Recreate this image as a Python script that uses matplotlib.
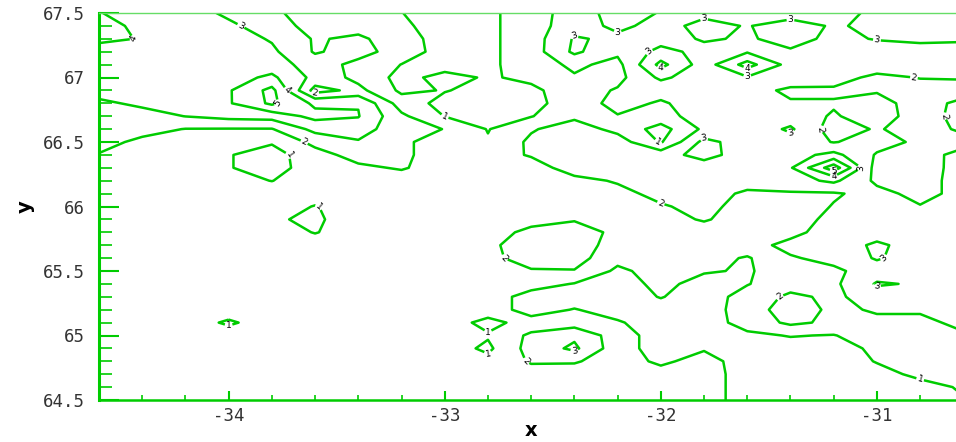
import matplotlib
matplotlib.use("Agg")
import matplotlib.pyplot as plt
import numpy as np
from matplotlib.ticker import MultipleLocator

plt.rcParams['axes.unicode_minus'] = False

# grid nodes (longitude west->east, latitude north->south)
lon = [-34.6, -34.4, -34.2, -34.0, -33.8, -33.6, -33.4, -33.2, -33.0, -32.8, -32.6,
       -32.4, -32.2, -32.0, -31.8, -31.6, -31.4, -31.2, -31.0, -30.8, -30.6]
lat = [67.5, 67.4, 67.3, 67.2, 67.1, 67.0, 66.9, 66.8, 66.7, 66.6, 66.5,
       66.4, 66.3, 66.2, 66.1, 66.0, 65.9, 65.8, 65.7, 65.6, 65.5,
       65.4, 65.3, 65.2, 65.1, 65.0, 64.9, 64.8, 64.7, 64.6, 64.5]

# gridded values, one row per latitude
z_rows = [
    [4.05, 3.5, 3.5, 2.8, 2.2, 1.5, 1.5, 1.02, 0.5, 0.8, 1.5, 2.5, 3.4, 2.95, 2.8, 2.8, 2.6, 2.5, 3.3, 3.4, 3.4],
    [4.3, 3.8, 3.6, 3.2, 2.5, 1.6, 1.6, 1.2, 0.5, 0.8, 1.5, 2.6, 3.2, 2.7, 3.25, 2.95, 3.4, 2.9, 3.2, 3.4, 3.4],
    [4.2, 3.95, 3.6, 3.5, 2.9, 1.9, 2.2, 1.4, 0.6, 0.8, 1.5, 3.1, 2.8, 2.6, 3.1, 2.9, 3.3, 2.8, 3.05, 3.2, 3.1],
    [3.6, 3.5, 3.5, 3.5, 3.2, 1.9, 2.4, 1.5, 0.6, 0.8, 1.5, 3.2, 2.2, 3.3, 2.7, 2.9, 2.9, 2.7, 2.6, 2.6, 2.7],
    [3.5, 3.5, 3.5, 3.5, 3.5, 2.5, 1.7, 0.98, 0.6, 0.8, 1.5, 2.2, 1.7, 4.3, 2.5, 4.4, 2.6, 2.6, 2.7, 2.6, 2.6],
    [3.5, 3.5, 3.5, 3.6, 4.2, 2.7, 1.7, 0.7, 1.3, 0.9, 1.2, 1.9, 1.7, 3.2, 2.4, 2.9, 2.6, 2.5, 1.7, 2.05, 2.1],
    [3.4, 3.4, 3.5, 3.9, 5.3, 1.6, 2.3, 0.8, 1.05, 0.7, 0.8, 1.5, 2.1, 2.3, 2.2, 2.4, 1.8, 1.8, 1.9, 1.5, 1.5],
    [2.8, 3.2, 3.4, 3.9, 5.2, 3.8, 3.95, 1.5, 0.7, 0.7, 0.7, 1.5, 2.3, 1.9, 2.4, 2.3, 2.1, 2.1, 2.4, 1.5, 2.3],
    [2.6, 2.6, 3.02, 3.3, 3.4, 4.3, 4.05, 2.2, 0.97, 0.8, 0.95, 1.8, 1.95, 1.6, 2.5, 2.3, 2.5, 1.9, 2.5, 1.5, 2.4],
    [2.5, 2.3, 1.97, 1.95, 1.95, 3.3, 3.5, 2.3, 1.98, 0.95, 1.9, 2.5, 1.7, 0.6, 2.2, 2.4, 3.15, 1.5, 2.1, 1.5, 2.2],
    [2.3, 1.8, 1.5, 1.5, 1.1, 2.3, 2.9, 2.2, 1.5, 1.1, 2.2, 2.6, 2.5, 0.9, 3.3, 2.5, 2.6, 1.95, 2.4, 1.8, 1.6],
    [1.95, 1.5, 1.5, 1.05, 0.6, 1.6, 2.4, 2.2, 1.5, 1.5, 2.1, 2.6, 2.6, 2.6, 3.35, 2.5, 2.6, 3.3, 1.9, 1.5, 2.4],
    [1.5, 1.5, 1.5, 1.05, 0.6, 1.5, 1.8, 2.1, 1.5, 1.5, 1.5, 2.5, 2.4, 2.5, 2.5, 2.5, 2.9, 5.6, 1.5, 1.4, 2.5],
    [1.5, 1.5, 1.5, 1.3, 0.98, 1.5, 1.5, 1.5, 1.5, 1.5, 1.5, 1.7, 2.1, 2.5, 2.5, 2.5, 2.6, 3.2, 1.8, 1.5, 2.5],
    [1.5, 1.5, 1.5, 1.5, 1.5, 1.5, 1.5, 1.5, 1.5, 1.5, 1.5, 1.5, 1.7, 2.3, 2.5, 1.8, 1.9, 1.9, 2.3, 1.7, 2.3],
    [1.5, 1.5, 1.5, 1.5, 1.5, 0.95, 1.5, 1.5, 1.5, 1.5, 1.5, 1.5, 1.6, 1.9, 2.3, 1.6, 1.5, 2.05, 2.3, 2.05, 2.3],
    [1.5, 1.5, 1.5, 1.5, 1.1, 0.85, 1.5, 1.5, 1.5, 1.5, 1.6, 1.9, 1.5, 1.6, 2.1, 1.5, 1.5, 2.3, 2.4, 2.4, 2.3],
    [1.5, 1.5, 1.5, 1.5, 1.5, 0.95, 1.5, 1.5, 1.5, 1.5, 2.3, 2.6, 1.7, 1.5, 1.5, 1.7, 1.7, 2.5, 2.5, 2.5, 2.5],
    [1.5, 1.5, 1.5, 1.5, 1.5, 1.5, 1.5, 1.5, 1.5, 1.8, 2.5, 2.6, 1.5, 1.5, 1.5, 1.6, 2.3, 2.4, 3.2, 2.5, 2.5],
    [1.5, 1.5, 1.5, 1.5, 1.5, 1.5, 1.5, 1.5, 1.5, 1.7, 2.5, 2.4, 1.3, 1.5, 1.4, 0.9, 1.9, 2.3, 3.1, 2.5, 2.5],
    [1.5, 1.5, 1.5, 1.5, 1.5, 1.5, 1.5, 1.5, 1.5, 1.5, 1.9, 1.95, 0.8, 1.4, 1.1, 0.9, 1.5, 1.8, 2.5, 2.5, 2.5],
    [1.5, 1.5, 1.5, 1.5, 1.5, 1.5, 1.5, 1.5, 1.5, 1.5, 1.4, 0.95, 0.5, 1.3, 0.6, 0.95, 1.6, 1.8, 3.1, 2.9, 2.5],
    [1.5, 1.5, 1.5, 1.5, 1.5, 1.5, 1.5, 1.5, 1.5, 1.5, 0.6, 0.5, 0.5, 1.05, 0.5, 1.4, 2.2, 1.8, 2.5, 2.4, 2.4],
    [1.5, 1.5, 1.5, 1.5, 1.5, 1.5, 1.5, 1.5, 1.5, 1.5, 0.6, 1.05, 0.6, 0.6, 0.5, 1.5, 2.5, 1.8, 2.1, 2.1, 2.3],
    [1.5, 1.5, 1.5, 0.85, 1.5, 1.5, 1.5, 1.5, 1.5, 0.7, 1.4, 1.5, 1.1, 0.5, 0.5, 1.4, 2.2, 1.8, 1.8, 1.8, 2.2],
    [1.5, 1.5, 1.5, 1.5, 1.5, 1.5, 1.5, 1.5, 1.5, 1.1, 2.2, 2.8, 1.5, 0.5, 0.5, 0.8, 1.05, 0.95, 1.6, 1.6, 1.9],
    [1.5, 1.5, 1.5, 1.5, 1.5, 1.5, 1.5, 1.5, 1.5, 0.8, 2.4, 3.2, 1.4, 0.6, 0.9, 0.5, 0.6, 0.8, 1.1, 1.5, 1.5],
    [1.5, 1.5, 1.5, 1.5, 1.5, 1.5, 1.5, 1.5, 1.5, 1.3, 2.1, 2.1, 1.5, 0.8, 1.4, 0.5, 0.5, 0.5, 1.05, 1.4, 1.5],
    [1.5, 1.5, 1.5, 1.5, 1.5, 1.5, 1.5, 1.5, 1.5, 1.5, 1.6, 1.5, 1.5, 1.4, 1.5, 0.5, 0.5, 0.5, 0.7, 1.2, 1.3],
    [1.5, 1.5, 1.5, 1.5, 1.5, 1.5, 1.5, 1.5, 1.5, 1.5, 1.5, 1.5, 1.5, 1.5, 1.5, 0.5, 0.5, 0.5, 0.5, 0.7, 1.1],
    [1.5, 1.5, 1.5, 1.5, 1.5, 1.5, 1.5, 1.5, 1.5, 1.5, 1.5, 1.5, 1.5, 1.5, 1.5, 0.5, 0.5, 0.5, 0.5, 0.6, 0.95],
]

levels = [1, 2, 3, 4, 5]
x_ticks = [-34, -33, -32, -31]
x_labels = ['-34', '-33', '-32', '-31']
y_ticks = [64.5, 65, 65.5, 66, 66.5, 67, 67.5]
y_labels = ['64.5', '65', '65.5', '66', '66.5', '67', '67.5']

green = '#00cc00'
tick_font = 'DejaVu Sans Mono'

z = np.array(z_rows)

fig = plt.figure(figsize=(9.56, 4.42), dpi=100)
ax = fig.add_axes([99 / 956, 1 - 400 / 442, 857 / 956, 387 / 442])

cs = ax.contour(lon, lat, z, levels=levels, colors=green, linewidths=1.8)
ax.clabel(cs, fmt='%d', fontsize=6.5, inline=True, inline_spacing=1, colors='black')

ax.set_xlim(-34.6, -30.634)
ax.set_ylim(64.5, 67.5)

ax.set_xticks(x_ticks)
ax.set_xticklabels(x_labels)
ax.set_yticks(y_ticks)
ax.set_yticklabels(y_labels)
ax.xaxis.set_minor_locator(MultipleLocator(0.2))
ax.yaxis.set_minor_locator(MultipleLocator(0.1))

ax.tick_params(axis='y', which='major', direction='in', length=14.5, width=1.5,
               color=green, labelsize=12.5, pad=10, labelcolor='#333333')
ax.tick_params(axis='y', which='minor', direction='in', length=9.5, width=1.2, color=green)
ax.tick_params(axis='x', which='major', direction='in', length=6.5, width=1.5,
               color=green, labelsize=12.5, pad=5, labelcolor='#333333')
ax.tick_params(axis='x', which='minor', direction='in', length=3.6, width=1.2, color=green)
for lab in ax.get_xticklabels() + ax.get_yticklabels():
    lab.set_family(tick_font)

ax.spines['left'].set_color(green)
ax.spines['left'].set_linewidth(2.2)
ax.spines['bottom'].set_color(green)
ax.spines['bottom'].set_linewidth(1.8)
ax.spines['top'].set_color('#66dd66')
ax.spines['top'].set_linewidth(1.0)
ax.spines['right'].set_visible(False)

fig.text(531 / 956, 1 - 430 / 442, 'x', fontsize=14, fontweight='bold',
         ha='center', va='center')
fig.text(25 / 956, 1 - 207 / 442, 'y', fontsize=14, fontweight='bold',
         rotation=90, ha='center', va='center')

fig.savefig('out.png', dpi=100)
